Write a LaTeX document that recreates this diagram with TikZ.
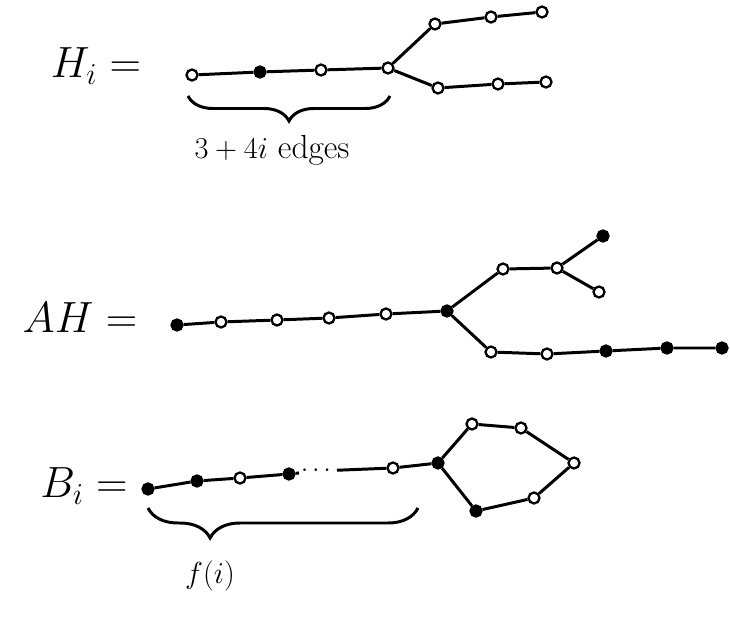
\documentclass[tikz,border=0pt]{standalone}
\usepackage{amsmath}
\usetikzlibrary{decorations.pathreplacing,positioning}

\begin{document}
\begin{tikzpicture}[
    x=0.02cm,y=-0.02cm,
    vtx/.style={draw,circle,fill=white,line width=1.3pt,minimum size=2.2mm,inner sep=0pt},
    vtxf/.style={vtx,fill=black},
    link/.style={line width=1.7pt},
    brc/.style={decorate,decoration={brace,mirror,amplitude=5mm},line width=1.7pt},
    lab/.style={font=\fontsize{26}{30}\selectfont},
    sublab/.style={font=\fontsize{19}{23}\selectfont}]
    \useasboundingbox (0,0) rectangle (730,635);
    % H_i
    \node[lab] (hname) at (96,66) {$H_i=$};
    \node[vtx] (h1) at (192,75) {};
    \node[vtxf] (h2) at (260,72) {};
    \node[vtx] (h3) at (321,70) {};
    \node[vtx] (h4) at (388,68) {};
    \node[vtx] (hu1) at (435,24) {};
    \node[vtx] (hu2) at (491,17) {};
    \node[vtx] (hu3) at (542,12) {};
    \node[vtx] (hd1) at (438,88) {};
    \node[vtx] (hd2) at (498,84) {};
    \node[vtx] (hd3) at (546,82) {};
    \draw[link] (h1) -- (h2) -- (h3) -- (h4);
    \draw[link] (h4) -- (hu1) -- (hu2) -- (hu3);
    \draw[link] (h4) -- (hd1) -- (hd2) -- (hd3);
    \coordinate (hbl) at (188,96);
    \coordinate (hbr) at (390,96);
    \draw[brc] (hbl) -- (hbr);
    \node[sublab] (hcnt) at (272,150) {$3+4i$ edges};
    % AH
    \node[lab] (aname) at (80,318) {$AH=$};
    \node[vtxf] (a1) at (177,325) {};
    \node[vtx] (a2) at (221,322) {};
    \node[vtx] (a3) at (277,320) {};
    \node[vtx] (a4) at (329,318) {};
    \node[vtx] (a5) at (386,314) {};
    \node[vtxf] (a6) at (447,311) {};
    \node[vtx] (au1) at (503,269) {};
    \node[vtx] (au2) at (557,268) {};
    \node[vtxf] (au3) at (603,236) {};
    \node[vtx] (au4) at (599,292) {};
    \node[vtx] (ad1) at (491,352) {};
    \node[vtx] (ad2) at (547,354) {};
    \node[vtxf] (ad3) at (606,351) {};
    \node[vtxf] (ad4) at (667,348) {};
    \node[vtxf] (ad5) at (722,348) {};
    \draw[link] (a1) -- (a2) -- (a3) -- (a4) -- (a5) -- (a6);
    \draw[link] (a6) -- (au1) -- (au2) -- (au3);
    \draw[link] (au2) -- (au4);
    \draw[link] (a6) -- (ad1) -- (ad2) -- (ad3) -- (ad4) -- (ad5);
    % B_i
    \node[lab] (bname) at (84,486) {$B_i=$};
    \node[vtxf] (b1) at (148,489) {};
    \node[vtxf] (b2) at (197,481) {};
    \node[vtx] (b3) at (240,478) {};
    \node[vtxf] (b4) at (289,474) {};
    \node[font=\Large,inner sep=1pt] (bdots) at (318,471) {$\cdots$};
    \node[vtx] (b5) at (393,468) {};
    \node[vtxf] (b6) at (438,463) {};
    \node[vtx] (c1) at (472,424) {};
    \node[vtx] (c2) at (521,428) {};
    \node[vtx] (c3) at (574,463) {};
    \node[vtx] (c4) at (534,498) {};
    \node[vtxf] (c5) at (476,511) {};
    \draw[link] (b1) -- (b2) -- (b3) -- (b4) -- (bdots) -- (b5) -- (b6);
    \draw[link] (b6) -- (c1) -- (c2) -- (c3) -- (c4) -- (c5) -- (b6);
    \coordinate (bbl) at (148,508);
    \coordinate (bbr) at (418,508);
    \draw[brc,decoration={aspect=0.23,amplitude=6mm}] (bbl) -- (bbr);
    \node[sublab] (bcnt) at (210,576) {$f(i)$};
\end{tikzpicture}
\end{document}
